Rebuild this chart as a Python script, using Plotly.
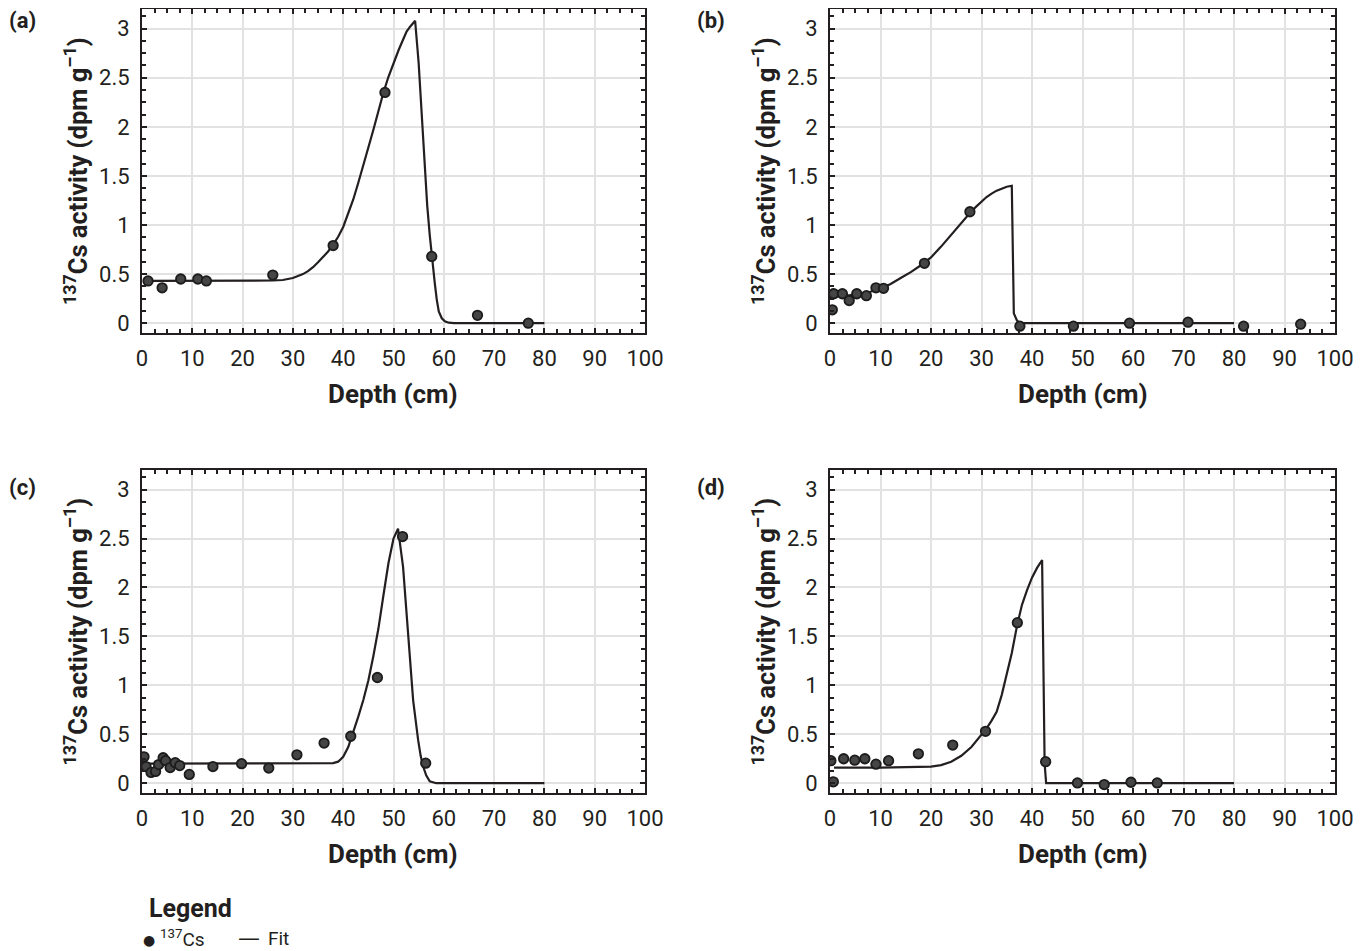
import plotly.graph_objects as go
from plotly.subplots import make_subplots

depth_a = [1.2, 4.0, 7.7, 11.1, 12.8, 26.0, 38.0, 48.3, 57.6, 66.7, 76.8]
cs_a = [0.43, 0.36, 0.45, 0.45, 0.43, 0.49, 0.79, 2.35, 0.68, 0.08, 0.0]

depth_b = [0.46, 0.73, 2.45, 3.8, 5.3, 7.2, 9.1, 10.6, 18.7, 27.7, 37.6, 48.2, 59.3, 70.9, 81.9, 93.2]
cs_b = [0.136, 0.30, 0.30, 0.23, 0.30, 0.28, 0.36, 0.355, 0.61, 1.135, -0.03, -0.03, 0.0, 0.01, -0.03, -0.01]

depth_c = [0.4, 0.1, 0.8, 1.8, 2.7, 3.3, 4.2, 4.7, 5.6, 6.6, 7.5, 9.4, 14.1, 19.8, 25.2, 30.8, 36.2, 41.5, 46.8, 51.8, 56.4]
cs_c = [0.27, 0.175, 0.17, 0.11, 0.12, 0.19, 0.26, 0.23, 0.16, 0.21, 0.18, 0.09, 0.17, 0.2, 0.155, 0.29, 0.41, 0.48, 1.08, 2.52, 0.205]

depth_d = [0.17, 0.66, 2.7, 4.9, 6.9, 9.1, 11.6, 17.5, 24.3, 30.8, 37.1, 42.7, 49.0, 54.3, 59.6, 64.8]
cs_d = [0.23, 0.014, 0.25, 0.235, 0.25, 0.195, 0.23, 0.30, 0.39, 0.53, 1.64, 0.22, 0.003, -0.014, 0.01, 0.003]

# fitted curves
fit_x_a = [1, 10, 20, 26, 28, 30, 31, 32, 33, 34, 35, 36, 37, 38, 39, 40, 41, 42, 43, 44, 45, 46, 47, 48,
           49, 50, 51, 52, 52.6, 53.3, 54, 54.3,
           55, 55.6, 56.2, 56.7, 57.2, 57.6, 58.2, 58.6, 59, 59.6, 60.2, 61, 62, 70, 80]
fit_y_a = [0.43, 0.43, 0.43, 0.435, 0.44, 0.46, 0.48, 0.5, 0.53, 0.57, 0.62, 0.67, 0.73, 0.8, 0.88, 0.98, 1.11, 1.26, 1.43, 1.6, 1.79, 1.97, 2.16, 2.35,
           2.51, 2.65, 2.78, 2.9, 2.97, 3.02, 3.06, 3.08,
           2.65, 2.1, 1.55, 1.2, 0.9, 0.68, 0.41, 0.24, 0.12, 0.05, 0.02, 0.005, 0.0, 0.0, 0.0]

fit_x_b = [0.5, 2, 4, 6, 8, 10, 12, 14, 16, 18, 20, 22, 24, 26, 28, 29, 30, 31, 32, 33, 34, 35, 36,
           36.4, 37, 37.6, 50, 80]
fit_y_b = [0.27, 0.275, 0.285, 0.3, 0.32, 0.35, 0.4, 0.46, 0.52, 0.59, 0.67, 0.78, 0.9, 1.03, 1.14, 1.19, 1.24, 1.285, 1.32, 1.35, 1.37, 1.39, 1.4,
           0.1, 0.03, 0.0, 0.0, 0.0]

fit_x_c = [0.5, 10, 20, 30, 36, 38, 39, 40, 41, 42, 43, 44, 45, 46, 47, 48, 49, 50, 50.9,
           51.9, 52.9, 53.9, 54.9, 55.4, 55.9, 56.5, 57.2, 58.5, 70, 80]
fit_y_c = [0.2, 0.2, 0.2, 0.2, 0.2, 0.205, 0.22, 0.27, 0.37, 0.52, 0.68, 0.85, 1.05, 1.3, 1.58, 1.92, 2.25, 2.5, 2.6,
           2.21, 1.53, 0.85, 0.44, 0.28, 0.17, 0.08, 0.02, 0.0, 0.0, 0.0]

fit_x_d = [0.8, 10, 20, 22, 24, 26, 28, 30, 31, 32, 33, 34, 35, 36, 37, 38, 39, 40, 41, 42,
           42.5, 42.8, 60, 80]
fit_y_d = [0.16, 0.16, 0.17, 0.185, 0.22, 0.28, 0.37, 0.49, 0.56, 0.64, 0.73, 0.9, 1.1, 1.33, 1.6, 1.82, 1.97, 2.1, 2.2, 2.28,
           0.2, 0.0, 0.0, 0.0]

panels = [
    ('(a)', depth_a, cs_a, fit_x_a, fit_y_a),
    ('(b)', depth_b, cs_b, fit_x_b, fit_y_b),
    ('(c)', depth_c, cs_c, fit_x_c, fit_y_c),
    ('(d)', depth_d, cs_d, fit_x_d, fit_y_d),
]

# page body has an 8px margin, so the figure is a bit smaller and every
# screen position below is shifted by that offset
OFF = 8
W, H = 1369 - OFF, 951 - OFF
ink = '#231f20'
font_fam = 'Roboto, Liberation Sans, sans-serif'


def px(x):
    return (x - OFF) / W


def py(y):
    return 1 - (y - OFF) / H


fig = make_subplots(rows=2, cols=2)

# screen boxes of the four plot areas: (left, right, top, bottom)
boxes = [(142, 645, 9, 333), (830, 1335, 9, 333), (142, 645, 470, 793), (830, 1335, 470, 793)]

for i, (lab, dx, dy, fx, fy) in enumerate(panels):
    r, c = i // 2 + 1, i % 2 + 1
    fig.add_trace(go.Scatter(x=fx, y=fy, mode='lines', name='Fit',
                             line=dict(color=ink, width=2.2), showlegend=False), row=r, col=c)
    fig.add_trace(go.Scatter(x=dx, y=dy, mode='markers', name='137Cs',
                             marker=dict(size=9.5, color='#454545', line=dict(color='#1c1c1c', width=1.8)),
                             showlegend=False), row=r, col=c)

    l, rr, t, b = boxes[i]
    fig.update_xaxes(domain=[px(l), px(rr)], range=[0, 100], dtick=10, tick0=0,
                     ticks='inside', ticklen=5, tickwidth=1.5, tickcolor=ink,
                     minor=dict(dtick=2.5, ticks='inside', ticklen=4, tickwidth=1.5, tickcolor=ink, showgrid=False),
                     showline=True, linewidth=2, linecolor=ink, mirror='allticks',
                     showgrid=True, gridcolor='#e2e2e2', gridwidth=2, zeroline=False,
                     tickfont=dict(size=22, color=ink, family=font_fam), ticklabelstandoff=5,
                     row=r, col=c)
    fig.update_yaxes(domain=[py(b), py(t)], range=[-0.1, 3.2], dtick=0.5, tick0=0,
                     ticks='inside', ticklen=5, tickwidth=1.5, tickcolor=ink,
                     minor=dict(dtick=0.125, ticks='inside', ticklen=4, tickwidth=1.5, tickcolor=ink, showgrid=False),
                     showline=True, linewidth=2, linecolor=ink, mirror='allticks',
                     showgrid=True, gridcolor='#e2e2e2', gridwidth=2, zeroline=False,
                     tickfont=dict(size=22, color=ink, family=font_fam), ticklabelstandoff=6,
                     row=r, col=c)

    # panel letter
    fig.add_annotation(text='<b>' + lab + '</b>', xref='paper', yref='paper',
                       x=px(7 if c == 1 else 695), y=py(21 if r == 1 else 487),
                       xanchor='left', yanchor='middle', showarrow=False,
                       font=dict(size=22, color=ink, family=font_fam))
    # y title
    fig.add_annotation(text='<b><sup>137</sup>Cs activity (dpm g<sup>\u20131</sup>)</b>', xref='paper', yref='paper',
                       x=px(l - 66), y=py((t + b) / 2), textangle=-90,
                       xanchor='center', yanchor='middle', showarrow=False,
                       font=dict(size=25.5, color=ink, family=font_fam))
    # x title
    fig.add_annotation(text='<b>Depth (cm)</b>', xref='paper', yref='paper',
                       x=px((l + rr) / 2), y=py(b + 61),
                       xanchor='center', yanchor='middle', showarrow=False,
                       font=dict(size=26, color=ink, family=font_fam))

# legend block under the panels
fig.add_annotation(text='<b>Legend</b>', xref='paper', yref='paper', x=px(147), y=py(908),
                   xanchor='left', yanchor='middle', showarrow=False,
                   font=dict(size=25, color=ink, family=font_fam))
fig.add_annotation(text='\u25cf', xref='paper', yref='paper', x=px(149), y=py(940),
                   xanchor='center', yanchor='middle', showarrow=False,
                   font=dict(size=14, color=ink, family='DejaVu Sans'))
fig.add_annotation(text='<sup>137</sup>Cs', xref='paper', yref='paper', x=px(158), y=py(938),
                   xanchor='left', yanchor='middle', showarrow=False,
                   font=dict(size=19, color=ink, family=font_fam))
fig.add_annotation(text='\u2014', xref='paper', yref='paper', x=px(237), y=py(937),
                   xanchor='left', yanchor='middle', showarrow=False, borderpad=0,
                   font=dict(size=22, color=ink, family='DejaVu Sans'))
fig.add_annotation(text='Fit', xref='paper', yref='paper', x=px(266), y=py(938),
                   xanchor='left', yanchor='middle', showarrow=False,
                   font=dict(size=19, color=ink, family=font_fam))

fig.update_layout(
    width=W, height=H,
    margin=dict(l=0, r=0, t=0, b=0, autoexpand=False),
    paper_bgcolor='white', plot_bgcolor='white',
    showlegend=False,
)

fig.write_html('out.html')
